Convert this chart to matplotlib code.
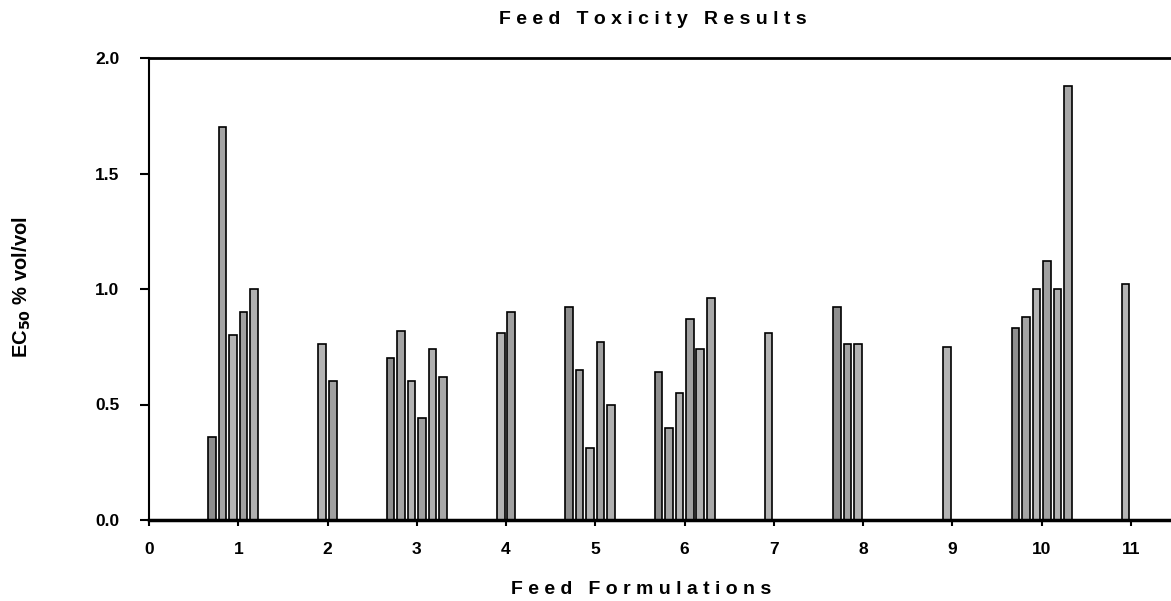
import numpy as np
import matplotlib
matplotlib.use("Agg")
import matplotlib.pyplot as plt

# Datos (EC50 % vol/vol), nan = sin barra
formulaciones = list(range(1, 12))
serie1 = [0.36, np.nan, 0.70, np.nan, 0.92, 0.64, np.nan, 0.92, np.nan, 0.83, np.nan]
serie2 = [1.70, np.nan, 0.82, np.nan, 0.65, 0.40, np.nan, 0.76, np.nan, 0.88, np.nan]
serie3 = [0.80, 0.76, 0.60, 0.81, 0.31, 0.55, 0.81, 0.76, 0.75, 1.00, 1.02]
serie4 = [0.90, 0.60, 0.44, 0.90, 0.77, 0.87, np.nan, np.nan, np.nan, 1.12, np.nan]
serie5 = [1.00, np.nan, 0.74, np.nan, 0.50, 0.74, np.nan, np.nan, np.nan, 1.00, np.nan]
serie6 = [np.nan, np.nan, 0.62, np.nan, np.nan, 0.96, np.nan, np.nan, np.nan, 1.88, np.nan]
series = [serie1, serie2, serie3, serie4, serie5, serie6]
grises = ['#8e8e8e', '#a4a4a4', '#b4b4b4', '#a0a0a0', '#b0b0b0', '#a8a8a8']

yticks = [0.0, 0.5, 1.0, 1.5, 2.0]
xticks = list(range(0, 12))

plt.rcParams['font.family'] = ['Liberation Sans', 'DejaVu Sans']
plt.rcParams['font.weight'] = 'bold'

fig = plt.figure(figsize=(11.71, 6.01), dpi=100)
ax = fig.add_axes([149/1171, 1 - 520/601, 1 - 149/1171, (520 - 58)/601])

paso = 0.1176
ancho = 0.085
x = np.array(formulaciones, dtype=float)
for i, (vals, color) in enumerate(zip(series, grises)):
    ax.bar(x + (i - 2.5) * paso, vals, width=ancho, color=color,
           edgecolor='black', linewidth=1.2)

ax.set_xlim(0, 11.45)
ax.set_ylim(0, 2.0)
ax.set_xticks(xticks)
ax.set_yticks(yticks)
ax.set_yticklabels([f"{v:.1f}" for v in yticks])
ax.tick_params(axis='y', direction='out', length=6.5, width=1.5, labelsize=12.5, pad=15)
ax.tick_params(axis='x', direction='out', length=4.5, width=1.5, labelsize=12.5, pad=11)
for lab in ax.get_xticklabels() + ax.get_yticklabels():
    lab.set_fontweight('bold')

ax.spines['right'].set_visible(False)
ax.spines['top'].set_linewidth(2)
ax.spines['bottom'].set_linewidth(2.5)
ax.spines['left'].set_linewidth(1.5)

fig.text(653/1171, 1 - 20/601, "F e e d   T o x i c i t y   R e s u l t s",
         ha='center', va='center', fontsize=14, fontweight='bold')
fig.text(641/1171, 1 - 589/601, "F e e d   F o r m u l a t i o n s",
         ha='center', va='center', fontsize=14, fontweight='bold')
fig.text(22/1171, 1 - 287/601, r"EC$_{\mathbf{50}}$ % vol/vol", rotation=90,
         ha='center', va='center', fontsize=14.5, fontweight='bold')

fig.savefig("out.png", dpi=100)
